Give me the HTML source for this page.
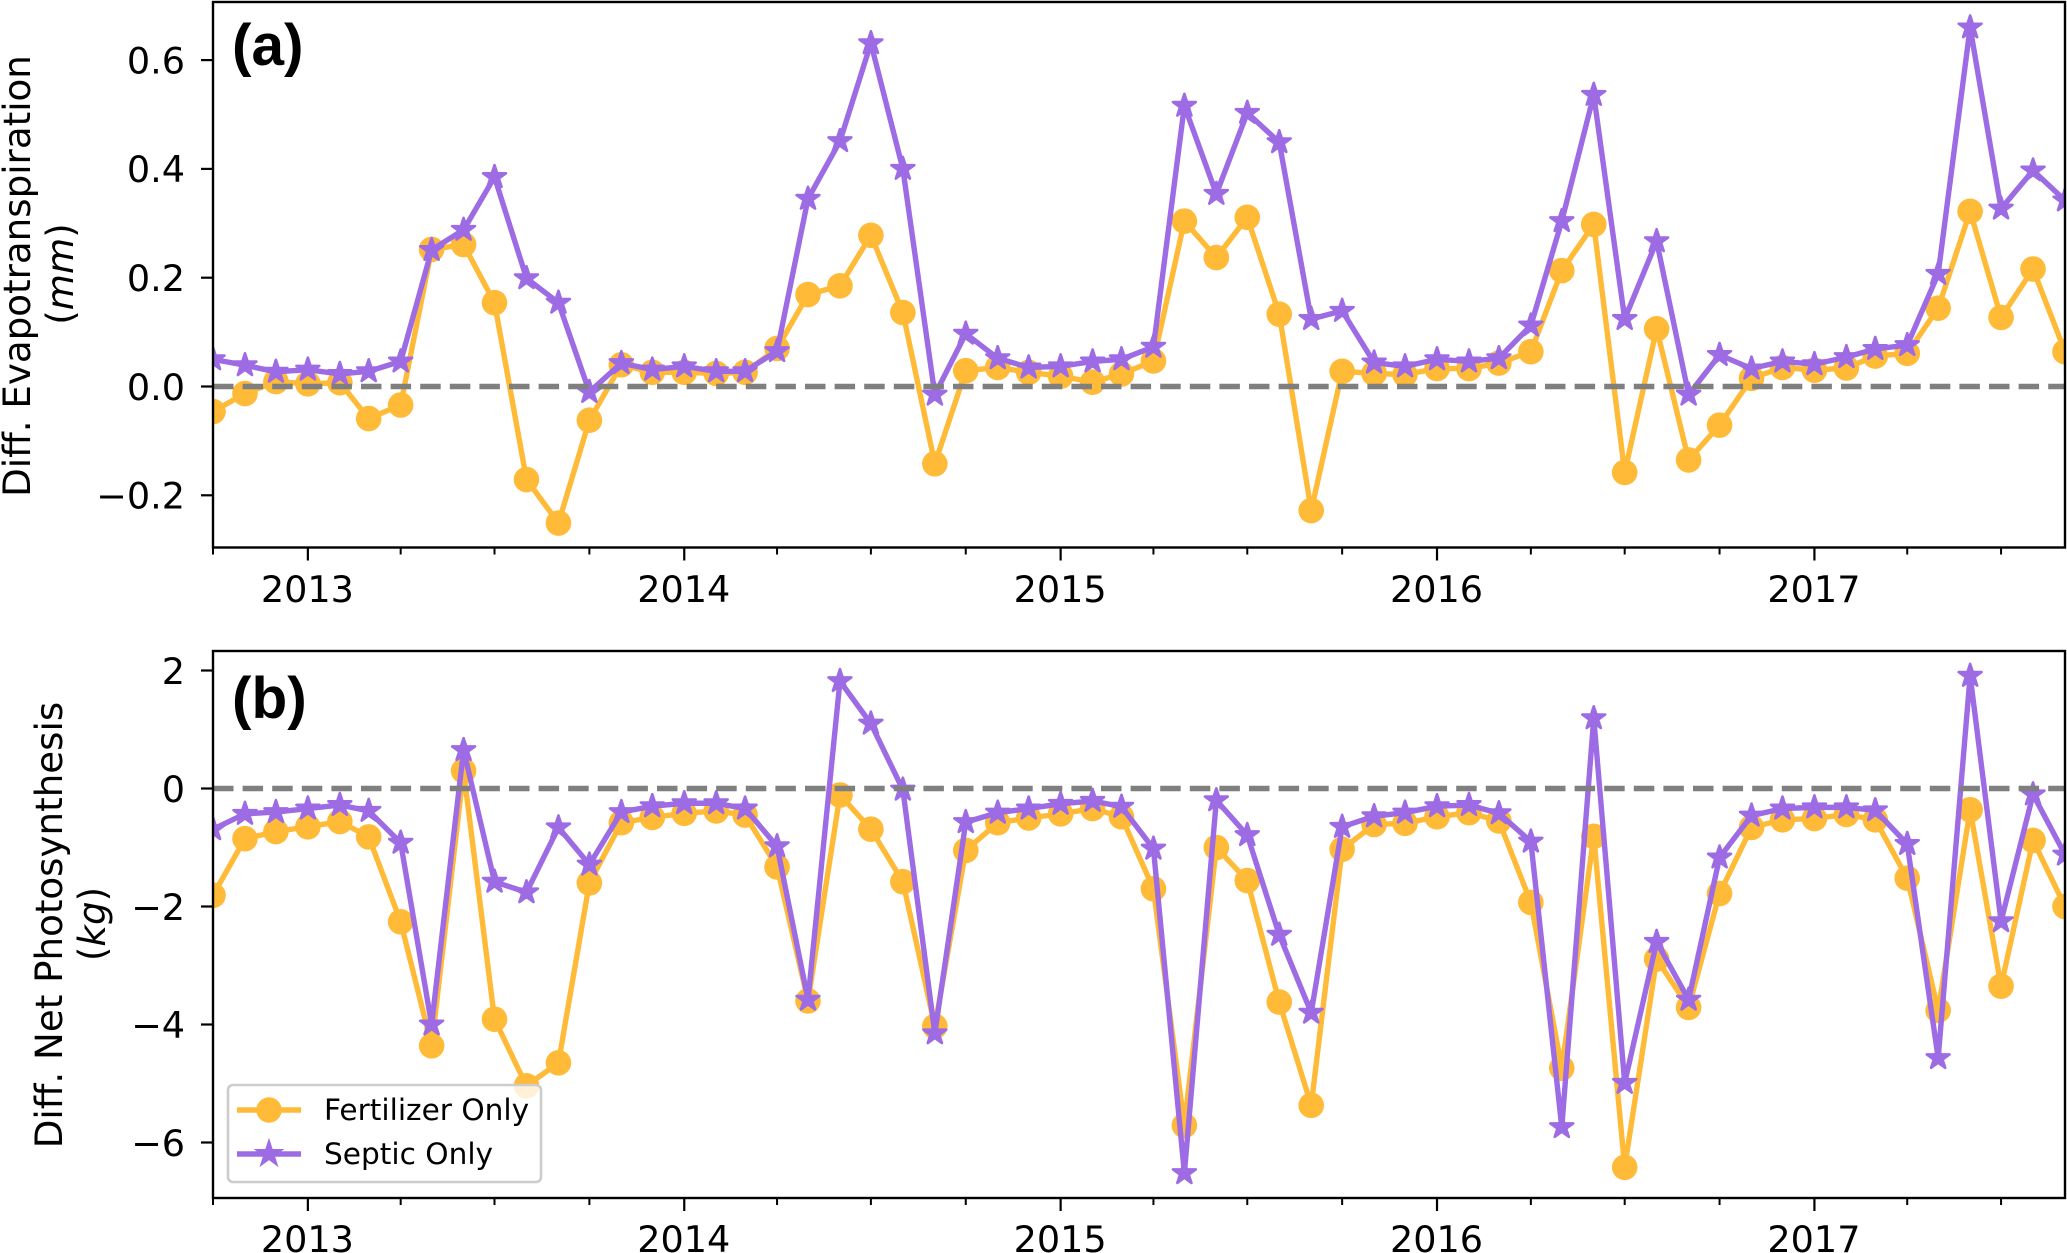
<!DOCTYPE html>
<html lang="en">
<head>
<meta charset="utf-8">
<title>Differences in evapotranspiration and net photosynthesis</title>
<style>
html,body{margin:0;padding:0;background:#fff;}
svg{display:block;}
text{font-family:"DejaVu Sans",sans-serif;fill:#000;}
.panel-letter{font-family:"Liberation Sans",sans-serif;font-weight:bold;font-size:58.5px;}
.tick-label{font-size:36.6px;}
.axis-title{font-size:37.2px;}
.legend-text{font-size:29.6px;}
</style>
</head>
<body>
<svg id="chart" xmlns="http://www.w3.org/2000/svg" width="2067" height="1253" viewBox="0 0 2067 1253">
  <rect x="0" y="0" width="2067" height="1253" fill="#ffffff"/>
  <defs>
    <clipPath id="clip-a"><rect x="213" y="2" width="1852" height="545.5"/></clipPath>
    <clipPath id="clip-b"><rect x="213" y="651" width="1852" height="547"/></clipPath>
  </defs>
  <g id="panel-a"></g>
  <g id="panel-b"></g>

  <text class="panel-letter" x="232" y="65">(a)</text>
  <text class="panel-letter" x="232" y="718">(b)</text>

  <text class="axis-title" text-anchor="middle" transform="translate(30,276) rotate(-90)">Diff. Evapotranspiration</text>
  <text class="axis-title" text-anchor="middle" transform="translate(73,274) rotate(-90)">(<tspan font-style="italic">mm</tspan>)</text>
  <text class="axis-title" text-anchor="middle" transform="translate(62,925) rotate(-90)">Diff. Net Photosynthesis</text>
  <text class="axis-title" text-anchor="middle" transform="translate(105,924) rotate(-90)">(<tspan font-style="italic">kg</tspan>)</text>

  <g id="legend">
    <rect x="228" y="1085" width="313" height="97" rx="5" ry="5" fill="#ffffff" fill-opacity="0.8" stroke="#cccccc" stroke-width="2.6"/>
    <g>
      <line x1="237" y1="1110" x2="301" y2="1110" stroke="#ffba37" stroke-width="5.4"/>
      <circle cx="269" cy="1110" r="12.7" fill="#ffba37"/>
      <text class="legend-text" x="324" y="1120">Fertilizer Only</text>
    </g>
    <g>
      <line x1="237" y1="1154" x2="301" y2="1154" stroke="#9d6be3" stroke-width="5.4"/>
      <polygon id="legend-star" fill="#9d6be3" stroke="#9d6be3" stroke-width="2.6"/>
      <text class="legend-text" x="324" y="1164">Septic Only</text>
    </g>
  </g>
</svg>
<script>
const months = [
  "2012-10","2012-11","2012-12",
  "2013-01","2013-02","2013-03","2013-04","2013-05","2013-06","2013-07","2013-08","2013-09","2013-10","2013-11","2013-12",
  "2014-01","2014-02","2014-03","2014-04","2014-05","2014-06","2014-07","2014-08","2014-09","2014-10","2014-11","2014-12",
  "2015-01","2015-02","2015-03","2015-04","2015-05","2015-06","2015-07","2015-08","2015-09","2015-10","2015-11","2015-12",
  "2016-01","2016-02","2016-03","2016-04","2016-05","2016-06","2016-07","2016-08","2016-09","2016-10","2016-11","2016-12",
  "2017-01","2017-02","2017-03","2017-04","2017-05","2017-06","2017-07","2017-08","2017-09"
];
const fertilizerET = [
  -0.046,-0.013,0.009,0.005,0.007,-0.059,-0.034,0.252,0.261,0.154,-0.171,-0.251,-0.062,0.040,0.026,
  0.026,0.024,0.026,0.070,0.169,0.185,0.278,0.136,-0.142,0.029,0.035,0.026,
  0.019,0.008,0.023,0.047,0.304,0.237,0.311,0.133,-0.228,0.028,0.024,0.022,
  0.033,0.033,0.043,0.064,0.213,0.298,-0.158,0.106,-0.135,-0.071,0.015,0.035,
  0.030,0.034,0.056,0.061,0.144,0.322,0.127,0.216,0.064
];
const septicET = [
  0.050,0.039,0.027,0.031,0.023,0.028,0.046,0.251,0.288,0.385,0.199,0.154,-0.010,0.043,0.031,
  0.037,0.028,0.028,0.065,0.345,0.451,0.631,0.400,-0.015,0.097,0.052,0.035,
  0.037,0.046,0.050,0.073,0.516,0.354,0.503,0.449,0.124,0.139,0.044,0.037,
  0.050,0.046,0.052,0.112,0.304,0.536,0.124,0.267,-0.015,0.058,0.033,0.046,
  0.041,0.054,0.069,0.076,0.207,0.660,0.327,0.397,0.342
];
const fertilizerNP = [
  -1.81,-0.85,-0.73,-0.65,-0.56,-0.82,-2.26,-4.36,0.30,-3.91,-5.04,-4.65,-1.60,-0.58,-0.49,
  -0.42,-0.38,-0.45,-1.33,-3.60,-0.11,-0.69,-1.58,-4.03,-1.05,-0.58,-0.50,
  -0.43,-0.34,-0.48,-1.70,-5.71,-1.00,-1.56,-3.62,-5.37,-1.03,-0.61,-0.59,
  -0.48,-0.41,-0.55,-1.93,-4.74,-0.81,-6.42,-2.89,-3.71,-1.78,-0.66,-0.53,
  -0.51,-0.44,-0.53,-1.52,-3.76,-0.36,-3.35,-0.88,-2.00
];
const septicNP = [
  -0.69,-0.43,-0.40,-0.34,-0.28,-0.38,-0.92,-4.00,0.65,-1.58,-1.76,-0.66,-1.29,-0.40,-0.30,
  -0.25,-0.25,-0.34,-0.98,-3.58,1.82,1.10,-0.02,-4.15,-0.57,-0.41,-0.34,
  -0.26,-0.21,-0.31,-1.02,-6.52,-0.20,-0.79,-2.48,-3.80,-0.65,-0.47,-0.41,
  -0.30,-0.28,-0.42,-0.90,-5.74,1.19,-4.99,-2.60,-3.58,-1.17,-0.46,-0.34,
  -0.32,-0.32,-0.37,-0.94,-4.57,1.91,-2.25,-0.10,-1.12
];
const yTicksET = [-0.2,0,0.2,0.4,0.6];
const yTickLabelsET = ["\u22120.2","0.0","0.2","0.4","0.6"];
const yTicksNP = [-6,-4,-2,0,2];
const yTickLabelsNP = ["\u22126","\u22124","\u22122","0","2"];
const yearTicks = ["2013-01","2014-01","2015-01","2016-01","2017-01"];
const yearLabels = ["2013","2014","2015","2016","2017"];
const quarterTicks = [
  "2012-10","2013-04","2013-07","2013-10","2014-04","2014-07","2014-10","2015-04","2015-07","2015-10",
  "2016-04","2016-07","2016-10","2017-04","2017-07"
];

const SVG_NS = "http://www.w3.org/2000/svg";
const ORANGE = "#ffba37";
const PURPLE = "#9d6be3";
const PLOT_LEFT = 213, PLOT_RIGHT = 2065;
const DOMAIN_START = Date.UTC(2012, 9, 1), DOMAIN_END = Date.UTC(2017, 8, 1);

function xScale(month) {
  const parts = month.split("-");
  const t = Date.UTC(+parts[0], +parts[1] - 1, 1);
  return PLOT_LEFT + (t - DOMAIN_START) / (DOMAIN_END - DOMAIN_START) * (PLOT_RIGHT - PLOT_LEFT);
}
function yScaleET(v) { return 386.5 - v * 544; }
function yScaleNP(v) { return 788.5 - v * 59; }

function make(tag, attrs, parent) {
  const el = document.createElementNS(SVG_NS, tag);
  for (const k in attrs) el.setAttribute(k, attrs[k]);
  parent.appendChild(el);
  return el;
}
function starPoints(cx, cy, R) {
  const r = R * 0.381966, pts = [];
  for (let i = 0; i < 10; i++) {
    const a = -Math.PI / 2 + i * Math.PI / 5, q = i % 2 ? r : R;
    pts.push((cx + q * Math.cos(a)).toFixed(2) + "," + (cy + q * Math.sin(a)).toFixed(2));
  }
  return pts.join(" ");
}

function drawSeries(parent, values, yFn, color, kind, seriesName) {
  const group = make("g", {}, parent);
  
  
  const linePoints = values.map((v, i) => xScale(months[i]).toFixed(2) + "," + yFn(v).toFixed(2)).join(" ");
  const line = make("polyline", { points: linePoints, fill: "none", stroke: color, "stroke-width": 5.4, "stroke-linejoin": "round" }, group);
  
  
  values.forEach((v, i) => {
    const cx = xScale(months[i]), cy = yFn(v);
    const mark = kind === "circle"
      ? make("circle", { cx: cx.toFixed(2), cy: cy.toFixed(2), r: 12.8, fill: color }, group)
      : make("polygon", { points: starPoints(cx, cy, 12), fill: color, stroke: color, "stroke-width": 2.6, "stroke-linejoin": "round" }, group);
    
    
  });
}

function drawPanel(panelId, clipId, top, bottom, yFn, fert, septic, yTicks, yTickLabels, yearLabelBaseline, key) {
  const panel = document.getElementById(panelId);

  const plot = make("g", { "clip-path": "url(#" + clipId + ")" }, panel);
  
  
  drawSeries(plot, fert, yFn, ORANGE, "circle", key + '-fertilizer');
  drawSeries(plot, septic, yFn, PURPLE, "star", key + '-septic');

  const zero = make("line", { x1: PLOT_LEFT, x2: PLOT_RIGHT, y1: yFn(0), y2: yFn(0), stroke: "#7f7f7f", "stroke-width": 5.6, "stroke-dasharray": "20.5 9.1" }, plot);
  
  

  const yAxis = make("g", {}, panel);
  
  
  yTicks.forEach((v, i) => {
    const y = yFn(v);
    const tick = make("line", { x1: PLOT_LEFT - 12, x2: PLOT_LEFT, y1: y, y2: y, stroke: "#000", "stroke-width": 2.2 }, yAxis);
    
    
    const label = make("text", { x: 185, y: y + 13.3, "text-anchor": "end", class: "tick-label" }, yAxis);
    label.textContent = yTickLabels[i];
    
    
  });

  const xAxis = make("g", {}, panel);
  
  
  quarterTicks.forEach(m => {
    const x = xScale(m);
    const tick = make("line", { x1: x, x2: x, y1: bottom, y2: bottom + 7, stroke: "#000", "stroke-width": 2 }, xAxis);
    
    
  });
  yearTicks.forEach((m, i) => {
    const x = xScale(m);
    const tick = make("line", { x1: x, x2: x, y1: bottom, y2: bottom + 13, stroke: "#000", "stroke-width": 2.2 }, xAxis);
    
    
    const label = make("text", { x: x - 0.5, y: yearLabelBaseline, "text-anchor": "middle", class: "tick-label" }, xAxis);
    label.textContent = yearLabels[i];
    
    
  });

  const frame = make("rect", { x: PLOT_LEFT, y: top, width: PLOT_RIGHT - PLOT_LEFT, height: bottom - top, fill: "none", stroke: "#000", "stroke-width": 2.4 }, panel);
  
  
}

drawPanel("panel-a", "clip-a", 2, 547.5, yScaleET, fertilizerET, septicET, yTicksET, yTickLabelsET, 602, "et");
drawPanel("panel-b", "clip-b", 651, 1198, yScaleNP, fertilizerNP, septicNP, yTicksNP, yTickLabelsNP, 1252, "np");
document.getElementById("legend-star").setAttribute("points", starPoints(269, 1154, 12));
</script>
</body>
</html>
